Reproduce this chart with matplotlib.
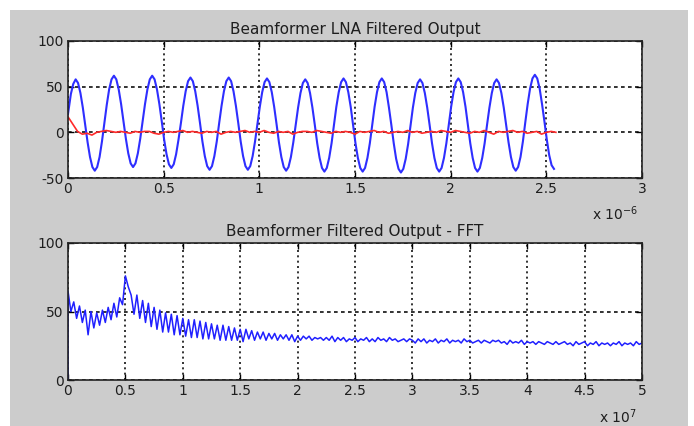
import numpy as np
import matplotlib
matplotlib.use('Agg')
import matplotlib.pyplot as plt
from matplotlib.patches import Rectangle

plt.rcParams['font.family'] = ['DejaVu Sans']
plt.rcParams['axes.unicode_minus'] = False

# ---------------- data ----------------
# top panel: time axis in units of 1e-6 s
lna_t0 = 0.0
lna_start = 20
lna_dt = 0.0125         # sampling step of the blue trace
lna_first = 0.015
lna_blue = [42, 53,
            58, 54, 43, 27, 8, -11, -27, -38, -42, -38, -27, -10, 10, 30, 47, 58,
            62, 58, 47, 31, 12, -7, -23, -34, -38, -34, -23, -7, 12, 31, 47, 58,
            62, 58, 47, 31, 12, -8, -24, -35, -39, -35, -24, -8, 10, 29, 45, 56,
            60, 56, 45, 29, 10, -10, -26, -37, -41, -37, -26, -10, 10, 29, 45, 56,
            60, 56, 45, 29, 10, -10, -26, -37, -41, -37, -26, -10, 9, 28, 44, 55,
            59, 55, 44, 28, 9, -11, -27, -38, -42, -38, -27, -11, 8, 27, 43, 54,
            58, 54, 43, 27, 8, -12, -28, -39, -43, -39, -28, -12, 8, 28, 44, 55,
            59, 55, 44, 28, 8, -12, -28, -39, -43, -39, -28, -12, 8, 28, 44, 55,
            59, 55, 44, 27, 8, -12, -29, -40, -44, -40, -29, -13, 7, 27, 43, 54,
            58, 54, 43, 27, 8, -12, -28, -39, -43, -39, -28, -12, 8, 28, 44, 55,
            59, 55, 44, 28, 8, -12, -28, -39, -43, -39, -28, -12, 8, 27, 43, 54,
            58, 54, 43, 27, 8, -11, -27, -38, -42, -38, -27, -10, 11, 31, 48, 59,
            63, 59, 48, 31, 12, -8, -25, -36, -40]

red_dt = 0.025
lna_red = [17, 9, 1, -2, -1, -3, 0, 1, 2, 1,
           0, 1, 0, -1, 1, 0, 1, 1, -1, -2,
           0, 1, 0, 1, 2, 0, 1, 0, -1, 1,
           0, 1, -2, 0, 1, 0, 1, 2, 0, 1,
           0, 2, 0, -1, 1, 0, 1, -2, 0, 1,
           1, 0, 2, 1, 0, -1, 1, 0, 1, 0,
           -2, 1, 0, 1, 2, 0, 1, -1, 0, 1,
           0, 2, 0, 1, -1, 0, 1, 0, 2, 1,
           0, 2, 1, 0, -1, 1, 0, 2, 0, -2,
           1, 0, 1, 2, 0, 1, -1, 0, 1, -2,
           0, 1, 0]

# bottom panel: frequency axis in units of 1e7 Hz
fft_df = 0.025
fft_mag = [65, 50, 57, 45, 54, 42, 51, 33, 50, 38,
           49, 40, 51, 42, 53, 44, 56, 46, 60, 55,
           76, 68, 62, 48, 62, 45, 58, 42, 56, 39,
           53, 37, 51, 35, 49, 35, 48, 33, 47, 33,
           45, 32, 44, 31, 44, 31, 43, 30, 42, 30,
           41, 30, 40, 29, 40, 29, 39, 29, 38, 29,
           37, 28, 37, 30, 36, 29, 35, 30, 35, 29,
           34, 30, 34, 29, 33, 30, 33, 29, 33, 28,
           32, 29, 32, 30, 32, 29, 31, 30, 31, 29,
           31, 29, 32, 28, 31, 29, 31, 28, 30, 29,
           31, 28, 30, 29, 31, 28, 30, 28, 31, 29,
           30, 28, 31, 29, 30, 28, 29, 30, 28, 30,
           29, 27, 30, 28, 30, 27, 29, 28, 30, 27,
           29, 28, 30, 27, 29, 28, 29, 27, 30, 28,
           29, 27, 28, 29, 27, 29, 28, 27, 29, 28,
           29, 27, 28, 26, 29, 27, 28, 27, 29, 26,
           28, 27, 28, 26, 28, 27, 26, 28, 27, 26,
           28, 26, 27, 28, 26, 27, 25, 28, 26, 27,
           28, 25, 27, 26, 28, 25, 27, 26, 27, 25,
           27, 26, 28, 25, 27, 26, 27, 25, 28, 26, 27]

top_xticks = [0, 0.5, 1, 1.5, 2, 2.5, 3]
top_xlabels = ['0', '0.5', '1', '1.5', '2', '2.5', '3']
top_yticks = [-50, 0, 50, 100]
bot_xticks = [0, 0.5, 1, 1.5, 2, 2.5, 3, 3.5, 4, 4.5, 5]
bot_xlabels = ['0', '0.5', '1', '1.5', '2', '2.5', '3', '3.5', '4', '4.5', '5']
bot_yticks = [0, 50, 100]

# ---------------- figure ----------------
W, H = 694, 426
fig = plt.figure(figsize=(W / 100, H / 100), dpi=100, facecolor='white')
fig.patches.append(Rectangle((10 / W, 0), 678 / W, 416 / H, transform=fig.transFigure,
                             facecolor='#cccccc', edgecolor='none', zorder=-10))

def px_axes(left, top, right, bottom):
    return fig.add_axes([left / W, 1 - bottom / H, (right - left) / W, (bottom - top) / H])

def style(ax, xticks, xlabels, yticks):
    ax.set_xticks(xticks)
    ax.set_xticklabels(xlabels)
    ax.set_yticks(yticks)
    ax.tick_params(direction='in', length=4, width=1, top=True, right=True,
                   labelsize=10, labelcolor='#1e1e1e', pad=3)
    for s in ax.spines.values():
        s.set_linewidth(1.2)
        s.set_color('#222222')
    ax.xaxis.grid(True, color='#111111', linewidth=1.2, linestyle=(0, (1.2, 2)))
    ax.yaxis.grid(True, color='#111111', linewidth=1.2, linestyle=(0, (2.2, 2)))
    ax.set_axisbelow(True)

ax1 = px_axes(68, 41, 642, 178)
t_blue = np.concatenate(([lna_t0], lna_first + lna_dt * np.arange(len(lna_blue))))
ax1.plot(t_blue, [lna_start] + lna_blue, color='#2e2eff', linewidth=1.5)
t_red = red_dt * np.arange(len(lna_red))
ax1.plot(t_red, lna_red, color='#ff2a2a', linewidth=1.2)
ax1.set_xlim(0, 3)
ax1.set_ylim(-50, 100)
style(ax1, top_xticks, top_xlabels, top_yticks)
ax1.set_title('Beamformer LNA Filtered Output', fontsize=11, color='#1e1e1e', pad=5)

ax2 = px_axes(68, 243, 642, 380)
f = np.concatenate(([0], fft_df * np.arange(len(fft_mag))))
ax2.plot(f, [0] + fft_mag, color='#2020ff', linewidth=1.1)
ax2.set_xlim(0, 5)
ax2.set_ylim(0, 100)
style(ax2, bot_xticks, bot_xlabels, bot_yticks)
ax2.set_title('Beamformer Filtered Output - FFT', fontsize=11, color='#1e1e1e', pad=5)

fig.text(615 / W, 1 - 214 / H, r'x 10$^{-6}$', fontsize=10, color='#1e1e1e', ha='center', va='center')
fig.text(618 / W, 1 - 417 / H, r'x 10$^{7}$', fontsize=10, color='#1e1e1e', ha='center', va='center')

fig.savefig('out.png', dpi=100, facecolor='white')
